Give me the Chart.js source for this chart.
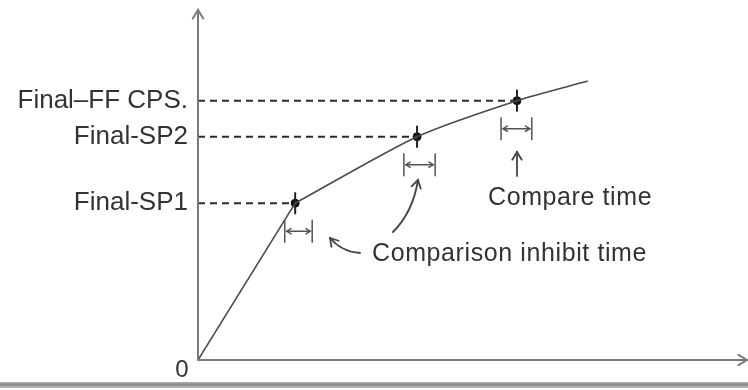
<!DOCTYPE html>
<html lang="en">
<head>
    <meta charset="UTF-8">
    <title>Comparison timing</title>
    <script src="https://cdn.jsdelivr.net/npm/chart.js"></script>
    <style>
        body { margin: 0; background: #fff; }
        #wrap { width: 748px; height: 390px; }
    </style>
</head>
<body>
    <div id="wrap"><canvas id="timing-chart" width="748" height="390"></canvas></div>
    <script>
        // process curve (time, value) - origin, SP1, SP2, FF, end of curve
        const riseX = [0, 17.7];
        const riseY = [0, 44.8];
        const curveX = [17.7, 39.9, 58.1, 71.0];
        const curveY = [44.8, 63.8, 74.1, 79.7];

        // set points on the curve
        const setpointX = [17.7, 39.9, 58.1];
        const setpointY = [44.8, 63.8, 74.1];
        const tickLabels = ['Final-SP1', 'Final-SP2', 'Final\u2013FF CPS.'];

        // comparison windows |<->| under each set point
        const windowStart = [15.8, 37.5, 55.2];
        const windowEnd = [20.8, 43.2, 60.8];

        const ink = '#333';
        const font = '"Liberation Sans", Arial, sans-serif';

        const toPts = (xs, ys) => xs.map((x, i) => ({ x: x, y: ys[i] }));

        const dashSets = setpointX.map((x, i) => ({
            data: [{ x: 0, y: setpointY[i] }, { x: x, y: setpointY[i] }],
            showLine: true,
            borderColor: '#2a2a2a',
            borderWidth: 2,
            borderDash: [7, 5],
            pointRadius: 0
        }));

        function arrowHead(ctx, tx, ty, fx, fy, size) {
            const a = Math.atan2(ty - fy, tx - fx);
            ctx.beginPath();
            ctx.moveTo(tx - size * Math.cos(a - 0.55), ty - size * Math.sin(a - 0.55));
            ctx.lineTo(tx, ty);
            ctx.lineTo(tx - size * Math.cos(a + 0.55), ty - size * Math.sin(a + 0.55));
            ctx.stroke();
        }

        const decorations = {
            id: 'decorations',
            beforeDraw(chart) {
                const ctx = chart.ctx;
                ctx.save();
                // grey shadow along the bottom
                const g = ctx.createLinearGradient(0, 381, 0, 390);
                g.addColorStop(0, '#bdbdbd');
                g.addColorStop(0.4, '#8a8a8a');
                g.addColorStop(1, '#e0e0e0');
                ctx.fillStyle = g;
                ctx.fillRect(0, 382, chart.width, 6);
                ctx.restore();
            },
            afterDatasetsDraw(chart) {
                const ctx = chart.ctx;
                const ca = chart.chartArea;
                const xs = chart.scales.x, ys = chart.scales.y;
                ctx.save();
                ctx.lineCap = 'round';

                // axes with open arrow heads
                ctx.strokeStyle = '#7a7a7a';
                ctx.lineWidth = 2;
                ctx.beginPath();
                ctx.moveTo(ca.left, ca.bottom);
                ctx.lineTo(ca.left, ca.top);
                ctx.moveTo(ca.left, ca.bottom);
                ctx.lineTo(ca.right, ca.bottom);
                ctx.stroke();
                arrowHead(ctx, ca.left, ca.top, ca.left, ca.top + 20, 10);
                arrowHead(ctx, ca.right, ca.bottom, ca.right - 20, ca.bottom, 10);

                ctx.fillStyle = ink;
                ctx.font = '24px ' + font;
                ctx.textAlign = 'center';
                ctx.textBaseline = 'middle';
                ctx.fillText('0', ca.left - 16, ca.bottom + 10);

                // comparison windows
                ctx.strokeStyle = '#555';
                ctx.lineWidth = 1.5;
                windowStart.forEach((s, i) => {
                    const x1 = xs.getPixelForValue(s);
                    const x2 = xs.getPixelForValue(windowEnd[i]);
                    const y = ys.getPixelForValue(setpointY[i]) + 28;
                    ctx.beginPath();
                    ctx.moveTo(x1, y - 11); ctx.lineTo(x1, y + 11);
                    ctx.moveTo(x2, y - 11); ctx.lineTo(x2, y + 11);
                    ctx.moveTo(x1 + 2, y); ctx.lineTo(x2 - 2, y);
                    ctx.stroke();
                    arrowHead(ctx, x1 + 2, y, x2, y, 5);
                    arrowHead(ctx, x2 - 2, y, x1, y, 5);
                });

                // annotations
                ctx.strokeStyle = '#444';
                ctx.lineWidth = 1.8;
                ctx.beginPath();
                ctx.moveTo(517, 176); ctx.lineTo(517, 152);
                ctx.stroke();
                arrowHead(ctx, 517, 152, 517, 170, 9);

                ctx.beginPath();
                ctx.moveTo(360, 253);
                ctx.quadraticCurveTo(342, 252, 330, 238);
                ctx.stroke();
                arrowHead(ctx, 330, 238, 342, 252, 9);

                ctx.beginPath();
                ctx.moveTo(393, 232);
                ctx.quadraticCurveTo(413, 212, 418, 180);
                ctx.stroke();
                arrowHead(ctx, 418, 180, 413, 200, 9);

                ctx.fillStyle = ink;
                ctx.font = '25px ' + font;
                ctx.letterSpacing = '0.6px';
                ctx.textAlign = 'left';
                ctx.fillText('Compare time', 488, 198);
                ctx.fillText('Comparison inhibit time', 372, 254);
                ctx.restore();
            }
        };

        new Chart(document.getElementById('timing-chart'), {
            type: 'scatter',
            data: {
                datasets: [
                    {
                        data: toPts(riseX, riseY),
                        showLine: true,
                        borderColor: '#4a4a4a',
                        borderWidth: 1.6,
                        pointRadius: 0
                    },
                    {
                        data: toPts(curveX, curveY),
                        showLine: true,
                        tension: 0.25,
                        borderColor: '#4a4a4a',
                        borderWidth: 1.6,
                        pointRadius: 0
                    },
                    ...dashSets,
                    {
                        data: toPts(setpointX, setpointY),
                        pointStyle: 'line',
                        rotation: 90,
                        pointRadius: 11,
                        borderColor: '#222',
                        borderWidth: 2
                    },
                    {
                        data: toPts(setpointX, setpointY),
                        pointStyle: 'circle',
                        pointRadius: 4,
                        backgroundColor: '#111',
                        borderColor: '#111',
                        borderWidth: 1
                    }
                ]
            },
            options: {
                responsive: false,
                animation: false,
                events: [],
                layout: { autoPadding: false, padding: { top: 10, right: 1, bottom: 30, left: 0 } },
                plugins: { legend: { display: false }, tooltip: { enabled: false } },
                scales: {
                    x: {
                        type: 'linear',
                        min: 0,
                        max: 100,
                        display: false
                    },
                    y: {
                        type: 'linear',
                        min: 0,
                        max: 100,
                        afterFit: (scale) => {
                            scale.width = 198;
                            scale.paddingTop = 0;
                            scale.paddingBottom = 0;
                        },
                        afterBuildTicks: (scale) => {
                            scale.ticks = setpointY.map(v => ({ value: v }));
                        },
                        grid: { display: false, drawTicks: false },
                        border: { display: false },
                        ticks: {
                            padding: 10,
                            color: ink,
                            font: { family: font, size: 26 },
                            callback: (v, i) => tickLabels[i]
                        }
                    }
                }
            },
            plugins: [decorations]
        });
    </script>
</body>
</html>
